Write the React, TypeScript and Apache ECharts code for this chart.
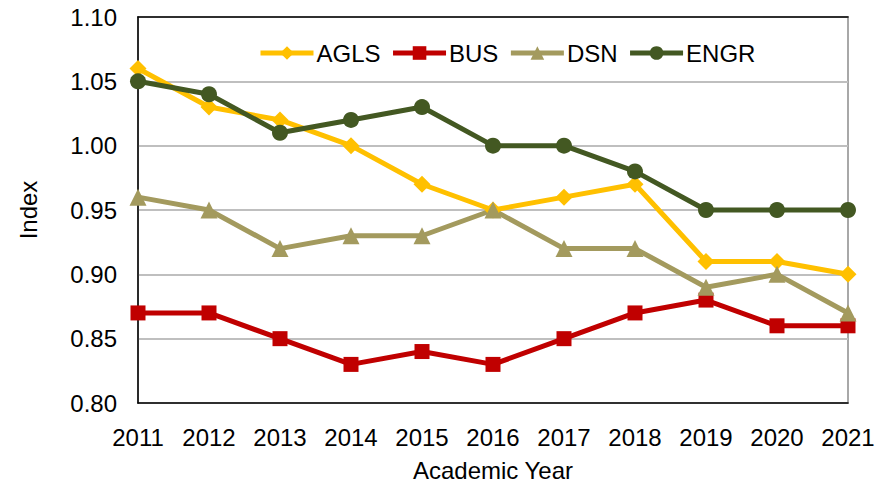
import React, { useEffect, useRef } from "react";
import * as echarts from "echarts";

const years = ["2011", "2012", "2013", "2014", "2015", "2016", "2017", "2018", "2019", "2020", "2021"];
const agls = [1.06, 1.03, 1.02, 1.0, 0.97, 0.95, 0.96, 0.97, 0.91, 0.91, 0.9];
const bus = [0.87, 0.87, 0.85, 0.83, 0.84, 0.83, 0.85, 0.87, 0.88, 0.86, 0.86];
const dsn = [0.96, 0.95, 0.92, 0.93, 0.93, 0.95, 0.92, 0.92, 0.89, 0.9, 0.87];
const engr = [1.05, 1.04, 1.01, 1.02, 1.03, 1.0, 1.0, 0.98, 0.95, 0.95, 0.95];

const FONT = "Liberation Sans, Arial, sans-serif";

export default function App() {
  const ref = useRef<HTMLDivElement>(null);
  useEffect(() => {
    const chart = echarts.init(ref.current!, null, { renderer: "svg" });
    const mk = (name: string, data: number[], color: string, symbol: string, size: number) => ({
      name,
      type: "line",
      data,
      symbol,
      symbolSize: size,
      lineStyle: { width: 5, color },
      itemStyle: { color },
      z: 3,
    });
    chart.setOption({
      animation: false,
      textStyle: { fontFamily: FONT },
      legend: {
        top: 36,
        left: 253,
        itemWidth: 53,
        itemHeight: 17,
        itemGap: 10,
        lineStyle: { width: 5 },
        textStyle: { fontSize: 24, color: "#000", fontFamily: FONT, padding: [0, 0, 0, -2] },
        data: ["AGLS", "BUS", "DSN", "ENGR"],
      },
      grid: {
        left: 138,
        right: 48,
        top: 17,
        bottom: 84,
        show: true,
        borderColor: "#8c8c8c",
        borderWidth: 1.5,
      },
      xAxis: [
        {
          type: "category",
          data: years,
          boundaryGap: false,
          axisLine: { lineStyle: { color: "#000", width: 1.5 } },
          axisTick: { show: false },
          axisLabel: { fontSize: 24, color: "#000", margin: 22, fontFamily: FONT },
          name: "Academic Year",
          nameLocation: "middle",
          nameGap: 55,
          nameTextStyle: { fontSize: 24, color: "#000", fontFamily: FONT },
          splitLine: { show: false },
        },
        {
          type: "category",
          data: years,
          position: "top",
          boundaryGap: false,
          axisLine: { lineStyle: { color: "#000", width: 1.5 } },
          axisTick: { show: false },
          axisLabel: { show: false },
        },
      ],
      yAxis: {
        type: "value",
        min: 0.8,
        max: 1.1,
        interval: 0.05,
        axisLine: { show: true, lineStyle: { color: "#000", width: 1.5 } },
        axisTick: { show: false },
        axisLabel: {
          fontSize: 24,
          color: "#000",
          margin: 21,
          fontFamily: FONT,
          formatter: (v: number) => v.toFixed(2),
        },
        splitLine: { lineStyle: { color: "#bfbfbf", width: 2 } },
        name: "Index",
        nameLocation: "middle",
        nameGap: 98,
        nameTextStyle: { fontSize: 24, color: "#000", fontFamily: FONT },
      },
      series: [
        mk("AGLS", agls, "#FFC000", "diamond", 17),
        mk("BUS", bus, "#C00000", "rect", 15),
        mk("DSN", dsn, "#A39A5E", "triangle", 17),
        mk("ENGR", engr, "#435822", "circle", 16),
      ],
    });
    return () => chart.dispose();
  }, []);
  return <div ref={ref} style={{ position: "absolute", left: 0, top: 0, width: 896, height: 487 }} />;
}
